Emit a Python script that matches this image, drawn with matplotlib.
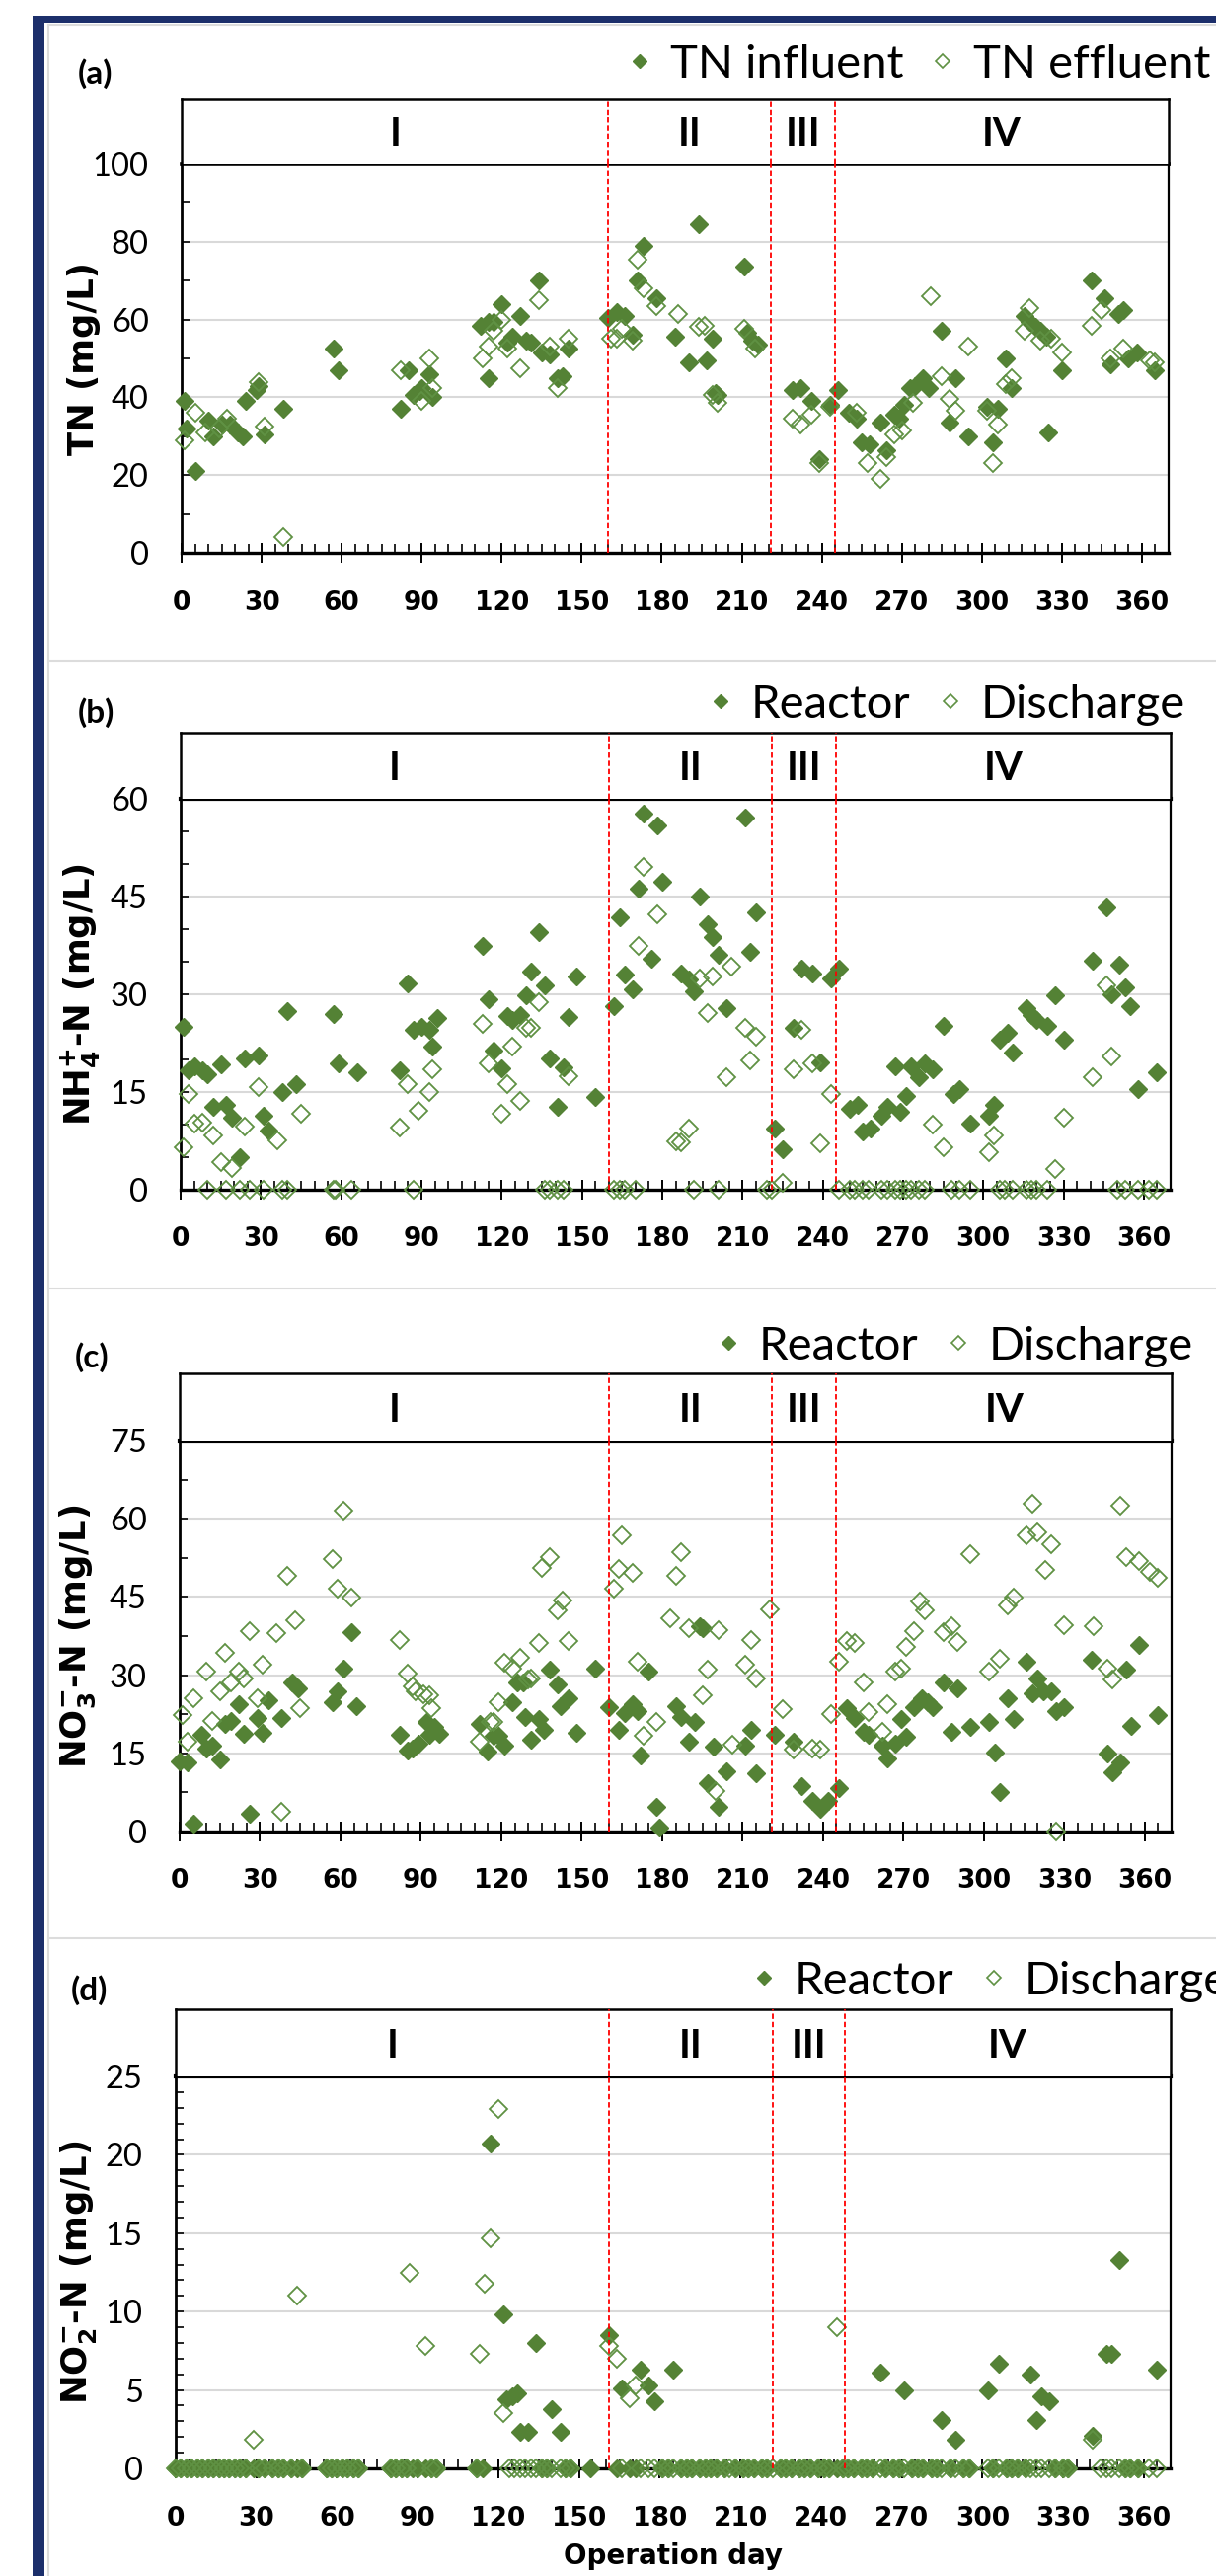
import matplotlib
matplotlib.use("Agg")
import matplotlib.pyplot as plt
from matplotlib.lines import Line2D
from matplotlib.patches import Rectangle
from matplotlib.ticker import MultipleLocator

W, H = 1232, 2609
GREEN = "#548235"
OPEN_GREEN = "#5f9143"
GRID = "#d9d9d9"
NAVY = "#1c2f6b"

plt.rcParams["mathtext.fontset"] = "dejavusans"

day_ticks = list(range(0, 361, 30))
phase_names = ["I", "II", "III", "IV"]

# (day, mg/L)
tn_influent = [
    (1, 39), (2, 32), (5, 21), (10, 34), (12, 30), (15, 33), (18, 33), (21, 31), (23, 30),
    (24, 39), (28, 42), (29, 43), (31, 30.5), (38, 37), (57, 52.5), (59, 47), (82, 37),
    (85, 47), (87, 40.5), (89, 41.5), (90, 42.5), (93, 46), (94, 40), (112, 58.5), (115, 45),
    (115, 59.5), (117, 59.5), (120, 64), (122, 54), (124, 55.5), (127, 61), (129, 54.5),
    (131, 54), (134, 70), (135, 51.5), (138, 51), (141, 45), (143, 45.5), (145, 52.5),
    (160, 60.5), (163, 62), (166, 61), (169, 56), (171, 70), (173, 79), (178, 65.5),
    (185, 55.5), (190, 49), (194, 84.5), (197, 49.5), (199, 55), (200, 41), (201, 40.5),
    (211, 73.5), (212, 56.5), (214, 54.5), (216, 53.5), (229, 42), (232, 42.5), (236, 39),
    (239, 24), (243, 38), (246, 42), (250, 36), (253, 34.5), (255, 28.5), (258, 28),
    (262, 33.5), (264, 26.5), (267, 35.5), (269, 34.5), (271, 38), (273, 42.5), (275, 43),
    (278, 45), (280, 42.5), (285, 57), (288, 33.5), (290, 45), (295, 30), (302, 37.5),
    (304, 28.5), (306, 37), (309, 50), (311, 42.5), (316, 61), (318, 59.5), (320, 58),
    (322, 57), (324, 55.5), (325, 31), (330, 47), (341, 70), (346, 65.5), (348, 48.5),
    (351, 61.5), (353, 62.5), (355, 50), (358, 51.5), (365, 47),
]
tn_effluent = [
    (1, 29), (5, 36), (9, 31), (14, 32), (17, 34.5), (29, 44), (31, 32.5), (38, 4), (82, 47),
    (90, 39), (93, 50), (94, 42.5), (113, 50), (115, 53), (117, 57), (120, 60), (122, 52.5),
    (127, 47.5), (134, 65), (138, 53), (141, 42.5), (145, 55), (161, 55), (163, 55),
    (165, 57.5), (169, 54.5), (171, 75.5), (173, 68), (178, 63.5), (186, 61.5), (194, 58),
    (196, 58.5), (199, 40.5), (201, 38.5), (211, 57.5), (215, 52.5), (229, 34.5), (232, 33),
    (236, 35.5), (239, 23), (243, 37.5), (253, 36), (257, 23), (262, 19), (264, 24.5),
    (267, 30.5), (270, 31.5), (274, 38.5), (281, 66), (285, 45.5), (288, 39.5), (290, 36.5),
    (295, 53), (302, 36.5), (304, 23), (306, 33), (309, 43.5), (311, 45), (316, 57),
    (318, 63), (322, 54.5), (326, 55), (330, 51.5), (341, 58.5), (345, 62.5), (348, 50),
    (353, 52.5), (363, 49.5), (365, 49),
]
nh4_reactor = [
    (1, 25), (3, 18.3), (5, 19), (8, 18.3), (10, 17.7), (12, 12.8), (15, 19.3), (17, 13),
    (19, 11), (22, 5), (24, 20.2), (29, 20.6), (31, 11.3), (33, 9.1), (38, 15), (40, 27.5),
    (43, 16.2), (57, 27), (59, 19.4), (66, 18.1), (82, 18.3), (85, 31.7), (87, 24.6),
    (90, 25), (93, 24.6), (94, 22), (96, 26.4), (113, 37.4), (115, 29.2), (117, 21.3),
    (120, 18.7), (122, 26.6), (124, 26), (127, 26.8), (129, 29.9), (131, 33.5), (134, 39.5),
    (136, 31.4), (138, 20.2), (141, 12.7), (143, 18.8), (145, 26.5), (148, 32.7), (155, 14.3),
    (162, 28.2), (164, 41.8), (166, 33), (169, 30.7), (171, 46.2), (173, 57.7), (176, 35.5),
    (178, 55.9), (180, 47.3), (187, 33.2), (190, 32.2), (192, 30.5), (194, 45), (197, 40.7),
    (199, 38.8), (201, 36), (204, 27.9), (211, 57.1), (213, 36.5), (215, 42.6), (222, 9.4),
    (225, 6.2), (229, 24.9), (232, 33.9), (236, 33.2), (239, 19.6), (243, 32.4), (246, 34),
    (250, 12.5), (253, 13), (255, 9), (258, 9.4), (262, 11.3), (264, 12.7), (267, 18.9),
    (269, 11.9), (271, 14.4), (273, 18.9), (276, 17.2), (278, 19.4), (281, 18.5), (285, 25.2),
    (289, 14.7), (291, 15.5), (295, 10.1), (302, 11.3), (304, 13), (306, 23), (309, 24.1),
    (311, 21.1), (316, 27.9), (318, 26.8), (320, 26), (324, 25.2), (327, 29.9), (330, 23.1),
    (341, 35.1), (346, 43.3), (348, 30), (351, 34.6), (353, 31), (355, 28.2), (358, 15.4),
    (365, 18),
]
nh4_discharge = [
    (1, 6.5), (3, 14.7), (5, 10.2), (8, 10.3), (10, 0), (12, 8.3), (15, 4.2), (17, 0),
    (19, 3.3), (22, 0), (24, 9.7), (26, 0), (29, 15.8), (31, 0), (36, 7.6), (38, 0), (40, 0),
    (45, 11.7), (57, 0), (58, 0), (64, 0), (82, 9.5), (85, 16.2), (87, 0), (89, 12.1),
    (93, 15), (94, 18.5), (113, 25.5), (115, 19.4), (120, 11.7), (122, 16.2), (124, 22),
    (127, 13.6), (129, 24.9), (131, 24.9), (134, 28.8), (136, 0), (138, 0), (141, 0), (143, 0),
    (145, 17.4), (162, 0), (164, 0), (166, 0), (170, 0), (171, 37.5), (173, 49.6), (178, 42.3),
    (185, 7.5), (187, 7.2), (190, 9.4), (192, 0), (194, 32.4), (197, 27.1), (199, 32.7),
    (201, 0), (204, 17.3), (206, 34.3), (211, 24.9), (213, 19.9), (215, 23.5), (219, 0),
    (221, 0), (225, 1.1), (229, 18.5), (232, 24.6), (236, 19.4), (239, 7.1), (243, 14.7),
    (246, 0), (250, 0), (252, 0), (255, 0), (257, 0), (262, 0), (264, 0), (267, 0), (269, 0),
    (271, 0), (273, 0), (276, 0), (278, 0), (281, 10), (285, 6.5), (288, 0), (291, 0), (295, 0),
    (302, 5.8), (304, 8.3), (306, 0), (308, 0), (311, 0), (316, 0), (318, 0), (320, 0),
    (324, 0), (327, 3.2), (330, 11.1), (341, 17.3), (346, 31.4), (348, 20.5), (350, 0),
    (353, 0), (358, 0), (362, 0), (365, 0),
]
no3_reactor = [
    (0, 13.4), (3, 13.2), (5, 1.5), (8, 18.6), (10, 16), (12, 16.5), (15, 13.8), (17, 20.7),
    (19, 21.3), (22, 24.4), (24, 18.7), (26, 3.4), (29, 21.8), (31, 18.9), (33, 25.1),
    (38, 21.7), (42, 28.6), (44, 27.5), (57, 24.8), (59, 26.9), (61, 31.3), (64, 38.2),
    (66, 24), (82, 18.5), (85, 15.5), (87, 16), (89, 16.9), (92, 21), (93, 18.6), (95, 20),
    (97, 18.7), (112, 20.7), (115, 15.3), (117, 18.3), (119, 18.3), (121, 16.5), (124, 24.8),
    (126, 28.6), (128, 28.6), (129, 22), (131, 17.6), (134, 21.5), (136, 19.6), (138, 31),
    (141, 28.2), (142, 24.1), (145, 25.5), (148, 18.9), (155, 31.3), (160, 23.9), (164, 19.6),
    (166, 22.7), (169, 24.4), (171, 23.1), (172, 14.5), (175, 30.6), (178, 4.7), (179, 0.7),
    (185, 24.1), (187, 22), (190, 17.2), (192, 21), (194, 39.4), (195, 39), (197, 9.3),
    (199, 16.2), (201, 4.7), (204, 11.6), (211, 16.5), (213, 19.6), (215, 11.2), (222, 18.6),
    (229, 17.2), (232, 8.8), (236, 5.9), (239, 4.3), (242, 5.9), (246, 8.3), (249, 23.6),
    (252, 21.7), (255, 19.1), (257, 18.6), (262, 16.5), (264, 14.1), (267, 16.9), (269, 21.5),
    (271, 18.2), (274, 23.8), (277, 25.5), (279, 24.8), (281, 23.9), (285, 28.6), (288, 19.1),
    (290, 27.5), (295, 20.1), (302, 21.1), (304, 15.2), (306, 7.6), (309, 25.6), (311, 21.5),
    (316, 32.5), (318, 26.5), (320, 29.3), (322, 26.9), (325, 26.9), (327, 23.1), (330, 23.9),
    (340, 32.9), (346, 15), (348, 11.4), (351, 13.2), (353, 31.1), (355, 20.3), (358, 35.8),
    (365, 22.4),
]
no3_discharge = [
    (1, 22.4), (3, 17.2), (5, 25.6), (10, 30.6), (12, 21.3), (15, 26.9), (17, 34.3),
    (19, 28.6), (22, 30.6), (24, 29.3), (26, 38.4), (29, 25.6), (31, 32), (36, 38), (38, 3.8),
    (40, 49.1), (43, 40.6), (45, 23.6), (57, 52.2), (59, 46.5), (61, 61.6), (64, 44.9),
    (82, 36.8), (85, 30.3), (87, 27.9), (88, 26.9), (91, 26.3), (93, 26.2), (94, 23.6),
    (112, 17.2), (116, 21), (117, 21.1), (119, 24.8), (121, 32.4), (124, 31.3), (127, 33.4),
    (130, 29.1), (131, 29.3), (134, 36.2), (135, 50.6), (138, 52.7), (141, 42.5), (143, 44.4),
    (145, 36.5), (162, 46.6), (164, 50.3), (165, 56.8), (169, 49.7), (171, 32.5), (173, 18.3),
    (178, 21.1), (183, 41), (185, 49), (187, 53.6), (190, 39.1), (195, 26.2), (197, 31.1),
    (200, 7.7), (201, 38.6), (206, 16.7), (211, 32), (213, 36.8), (215, 29.3), (220, 42.6),
    (225, 23.4), (229, 15.7), (236, 16), (239, 15.7), (243, 22.6), (246, 32.6), (249, 36.6),
    (252, 36.2), (255, 28.6), (257, 22.9), (262, 19.1), (264, 24.4), (267, 30.6), (269, 31.3),
    (271, 35.5), (274, 38.4), (276, 44.2), (278, 42.4), (285, 38.2), (288, 39.3), (290, 36.4),
    (295, 53.2), (302, 30.6), (306, 33.1), (309, 43.4), (311, 44.8), (316, 56.8), (318, 62.8),
    (320, 57.3), (323, 50.1), (325, 55.1), (327, 0), (330, 39.6), (341, 39.4), (346, 31.3),
    (348, 29.1), (351, 62.5), (353, 52.7), (358, 51.8), (362, 49.9), (365, 48.7),
]
no2_reactor = [
    (117, 20.7), (122, 9.8), (123, 4.4), (125, 4.6), (127, 4.8), (128, 2.3), (131, 2.3),
    (134, 8), (140, 3.8), (143, 2.3), (161, 8.5), (166, 5.1), (173, 6.3), (176, 5.3),
    (178, 4.3), (185, 6.3), (262, 6.1), (271, 5), (285, 3.1), (290, 1.8), (302, 5), (306, 6.7),
    (318, 6), (320, 3.1), (322, 4.6), (325, 4.3), (341, 2.1), (346, 7.3), (348, 7.3),
    (351, 13.3), (365, 6.3),
]
no2_reactor_zero_days = [
    0, 2, 4, 6, 8, 10, 12, 14, 16, 18, 20, 22, 24, 26, 29, 31, 33, 36, 38, 40, 43, 45, 47,
    56, 58, 60, 62, 64, 66, 68, 80, 82, 84, 86, 88, 90, 93, 95, 97, 112, 114, 136, 138, 145,
    147, 154, 164, 169, 171, 181, 183, 188, 190, 192, 195, 197, 199, 201, 204, 208, 211, 213,
    215, 218, 220, 225, 227, 229, 232, 234, 236, 239, 241, 243, 246, 248, 250, 252, 255, 257,
    259, 264, 267, 269, 274, 276, 278, 281, 283, 288, 293, 295, 304, 309, 311, 313, 316, 327,
    330, 332, 353, 355, 358,
]
no2_discharge = [
    (29, 1.8), (45, 11), (87, 12.5), (93, 7.8), (113, 7.3), (115, 11.8), (117, 14.7),
    (120, 22.9), (122, 3.5), (161, 7.8), (164, 7), (169, 4.5), (171, 5.3), (246, 9), (341, 1.8),
]
no2_discharge_zero_days = [
    0, 2, 4, 6, 8, 10, 12, 14, 16, 18, 20, 22, 24, 26, 31, 33, 36, 38, 40, 43, 47, 56, 58, 60,
    62, 64, 66, 68, 80, 82, 84, 86, 90, 95, 97, 112, 124, 126, 128, 130, 132, 134, 136, 138,
    140, 143, 145, 147, 166, 173, 176, 178, 181, 183, 185, 188, 190, 192, 195, 197, 199, 201,
    204, 206, 208, 211, 213, 215, 218, 220, 222, 225, 227, 229, 232, 234, 236, 239, 241, 243,
    248, 250, 252, 255, 257, 259, 262, 264, 267, 269, 271, 274, 276, 278, 281, 283, 285, 288,
    290, 293, 295, 302, 304, 306, 309, 311, 313, 316, 318, 320, 322, 325, 327, 330, 332, 344,
    346, 348, 351, 353, 355, 358, 362, 365,
]

no2_reactor_all = no2_reactor + [(d, 0) for d in no2_reactor_zero_days]
no2_discharge_all = no2_discharge + [(d, 0) for d in no2_discharge_zero_days]

fig = plt.figure(figsize=(W / 100, H / 100), dpi=100)
fig.patch.set_facecolor("white")


def fx(x):
    return x / W


def fy(y):
    return 1 - y / H


def px_axes(left, top, right, bottom):
    return fig.add_axes([fx(left), fy(bottom), (right - left) / W, (bottom - top) / H])


# page frame (navy bars, light panel borders)
bg = fig.add_axes([0, 0, 1, 1], zorder=-10)
bg.set_xlim(0, W)
bg.set_ylim(H, 0)
bg.axis("off")
bg.add_patch(Rectangle((33, 16), 12, H - 16, color=NAVY, lw=0))
bg.add_patch(Rectangle((33, 16), W - 33, 7, color=NAVY, lw=0))
for yy in [25, 669, 1305, 1963]:
    bg.plot([49, W], [yy, yy], color="#dcdcdc", lw=1.5)
bg.plot([49, 49], [25, H], color="#dcdcdc", lw=1.5)


def draw_panel(letter, filled, hollow, labels, ylabel, ymax, major, minor, bounds,
               frame, legend_xy, letter_xy, ylabel_x, top_lw, xlabel=None):
    left, head_top, top, bottom, right = frame
    ax = px_axes(left, top, right, bottom)
    hx = px_axes(left, head_top, right, top)

    fxs, fys = zip(*filled)
    hxs, hys = zip(*hollow)
    ax.plot(fxs, fys, ls="none", marker="D", ms=9.2, mfc=GREEN, mec=GREEN, mew=1,
            clip_on=False, zorder=3)
    ax.plot(hxs, hys, ls="none", marker="D", ms=9.2, mfc="none", mec=OPEN_GREEN, mew=1.3,
            clip_on=False, zorder=4)

    ax.set_xlim(0, 370)
    ax.set_ylim(0, ymax)
    ax.set_xticks(day_ticks)
    ax.set_xticklabels([str(d) for d in day_ticks], fontsize=19, fontweight="bold")
    ax.xaxis.set_minor_locator(MultipleLocator(5))
    ax.yaxis.set_major_locator(MultipleLocator(major))
    ax.yaxis.set_minor_locator(MultipleLocator(minor))
    for t in ax.get_yticklabels():
        t.set_fontfamily("Lato")
        t.set_fontsize(23.5)
    ax.tick_params(axis="x", which="major", direction="inout", length=14, width=1.4, pad=20)
    ax.tick_params(axis="x", which="minor", direction="in", length=6.5, width=1.2)
    ax.tick_params(axis="y", which="both", direction="in", length=6, width=1.2, pad=24)
    ax.yaxis.grid(True, which="major", color=GRID, lw=1.5)
    ax.set_axisbelow(True)
    ax.spines["left"].set_linewidth(2.0)
    ax.spines["bottom"].set_linewidth(2.4)
    ax.spines["right"].set_linewidth(1.6)
    ax.spines["top"].set_linewidth(top_lw)

    for b in bounds:
        for a in (ax, hx):
            a.axvline(b, color="red", lw=1.3, dashes=(3, 1.6), zorder=6)

    hx.set_xlim(0, 370)
    hx.set_ylim(0, 1)
    hx.set_xticks([])
    hx.set_yticks([])
    hx.spines["bottom"].set_visible(False)
    for s in ("top", "left", "right"):
        hx.spines[s].set_linewidth(1.8)
    edges = [0] + bounds + [370]
    for name, lo, hi in zip(phase_names, edges[:-1], edges[1:]):
        hx.text((lo + hi) / 2, 0.28, name, ha="center", va="baseline", fontfamily="Lato",
                fontweight="bold", fontsize=29)

    ax.set_ylabel(ylabel, fontsize=25.5, fontweight="bold", va="center")
    ax.yaxis.set_label_coords(fx(ylabel_x), fy((top + bottom) / 2), transform=fig.transFigure)
    if xlabel:
        ax.set_xlabel(xlabel, fontsize=20, fontweight="bold", va="center")
        ax.xaxis.set_label_coords(fx((left + right) / 2), fy(2589), transform=fig.transFigure)

    handles = [
        Line2D([], [], ls="none", marker="D", ms=7.2, mfc=GREEN, mec=GREEN),
        Line2D([], [], ls="none", marker="D", ms=7.2, mfc="none", mec=OPEN_GREEN, mew=1.2),
    ]
    ax.legend(handles, labels, loc="center left",
              bbox_to_anchor=(fx(legend_xy[0] - 14), fy(legend_xy[1])),
              bbox_transform=fig.transFigure, ncol=2, frameon=False, borderpad=0,
              borderaxespad=0, handlelength=0.6, handletextpad=0.35, columnspacing=0.55,
              prop={"family": "Lato", "size": 34})

    fig.text(fx(letter_xy[0]), fy(letter_xy[1]), "(" + letter + ")", ha="left", va="center",
             fontfamily="Lato", fontweight="bold", fontsize=24)


draw_panel("a", tn_influent, tn_effluent, ["TN influent", "TN effluent"], "TN (mg/L)",
           100, 20, 10, [160, 221, 245], (184, 100, 166, 560, 1184), (648, 66), (79, 75),
           85, 2.6)
draw_panel("b", nh4_reactor, nh4_discharge, ["Reactor", "Discharge"],
           r"NH$_\mathbf{4}^\mathbf{+}$-N (mg/L)",
           60, 15, 5, [160, 221, 245], (183, 742, 809, 1205, 1186), (730, 714), (79, 722),
           82, 3.0)
draw_panel("c", no3_reactor, no3_discharge, ["Reactor", "Discharge"],
           r"NO$_\mathbf{3}^\mathbf{-}$-N (mg/L)",
           75, 15, 7.5, [160, 221, 245], (182, 1391, 1459, 1855, 1187), (738, 1364), (76, 1375),
           79, 3.0)
draw_panel("d", no2_reactor_all, no2_discharge_all, ["Reactor", "Discharge"],
           r"NO$_\mathbf{2}^\mathbf{-}$-N (mg/L)",
           25, 5, 1, [161, 222, 249], (178, 2035, 2103, 2500, 1186), (774, 2007), (72, 2016),
           79, 3.0, xlabel="Operation day")

fig.savefig("out.png", dpi=100)
